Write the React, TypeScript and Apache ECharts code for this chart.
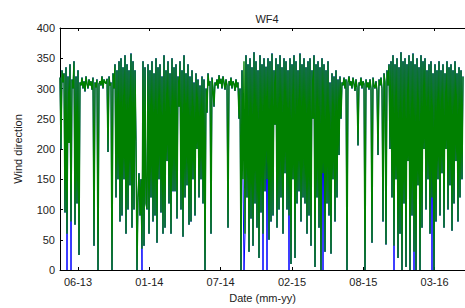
import React, { useEffect, useRef } from "react";
import * as echarts from "echarts";

// Tick labels (mm-yy) and their positions in days from 06-13
const tickLabels = ["06-13", "01-14", "07-14", "02-15", "08-15", "03-16"];
const tickDays = [0, 214, 428, 642, 856, 1070];
const startDay = -54;
const sampleDays = 3;
const xMin = -54;
const xMax = 1161;

// Green series (wind direction, degrees), one sample every 3 days
const greenValues = [
  318, 200, 330, 310, 325, 95, 335, 60, 320, 210,
  340, 80, 315, 300, 345, 75, 320, 110, 330, 25,
  310, 305, 318, 300, 312, 295, 320, 308, 300, 315,
  305, 312, 298, 318, 40, 310, 302, 315, 0, 308,
  312, 305, 320, 300, 315, 310, 308, 316, 195, 320,
  305, 310, 0, 325, 300, 340, 120, 330, 150, 345,
  80, 350, 90, 335, 150, 355, 60, 340, 100, 330,
  140, 358, 70, 345, 100, 330, 212, 0, 120, 160,
  90, 150, 35, 345, 40, 335, 110, 100, 340, 60,
  330, 120, 345, 80, 325, 90, 350, 45, 335, 150,
  340, 95, 320, 60, 355, 70, 330, 180, 345, 110,
  325, 60, 350, 130, 335, 130, 340, 85, 320, 270,
  345, 100, 330, 55, 355, 120, 325, 140, 340, 75,
  320, 80, 330, 150, 310, 90, 325, 200, 315, 120,
  305, 150, 320, 110, 315, 0, 300, 260, 325, 305,
  312, 60, 318, 300, 270, 310, 305, 315, 300, 322,
  308, 316, 300, 320, 310, 298, 315, 305, 70, 312,
  305, 318, 300, 312, 308, 296, 315, 302, 310, 250,
  300, 0, 330, 150, 345, 60, 355, 120, 340, 30,
  350, 85, 335, 40, 360, 110, 345, 70, 330, 20,
  355, 95, 340, 60, 350, 130, 336, 150, 350, 50,
  345, 80, 358, 90, 330, 240, 350, 70, 340, 100,
  355, 120, 335, 60, 350, 160, 345, 100, 330, 90,
  350, 10, 340, 150, 355, 20, 345, 110, 330, 130,
  358, 80, 340, 120, 350, 110, 335, 60, 345, 90,
  350, 40, 330, 250, 355, 5, 340, 120, 345, 70,
  335, 0, 350, 160, 340, 30, 330, 110, 345, 90,
  310, 27, 325, 150, 320, 80, 330, 120, 315, 190,
  320, 250, 310, 305, 318, 300, 315, 0, 310, 320,
  305, 312, 300, 318, 308, 296, 315, 302, 206, 310,
  305, 318, 300, 312, 308, 0, 315, 302, 310, 298,
  315, 300, 45, 318, 305, 300, 312, 296, 190, 315,
  305, 318, 300, 80, 325, 310, 42, 330, 305, 340,
  200, 345, 120, 355, 40, 340, 150, 350, 20, 335,
  60, 360, 0, 345, 110, 350, 5, 340, 180, 355,
  0, 345, 90, 358, 30, 340, 0, 350, 140, 335,
  0, 355, 70, 345, 200, 350, 100, 330, 150, 340,
  60, 345, 120, 325, 0, 340, 80, 330, 150, 345,
  90, 330, 160, 340, 70, 325, 200, 345, 100, 335,
  140, 340, 65, 330, 110, 345, 180, 325, 80, 335,
  120, 330, 150, 320,
];

// Blue series differs from green only at these samples: [sample index, value]
const blueOverrides: [number, number][] = [
  [7, 0], [11, 0], [82, 0], [184, 0], [203, 0], [207, 0], [229, 0],
  [263, 0], [334, 0], [354, 0], [372, 0],
];

function buildSeries(values: number[]) {
  return values.map((v, i) => [startDay + i * sampleDays, v]);
}

const blueValues = greenValues.slice();
blueOverrides.forEach(([i, v]) => {
  blueValues[i] = v;
});

const FONT = "'Liberation Sans', Arial, Helvetica, sans-serif";

export default function App() {
  const ref = useRef<HTMLDivElement>(null);
  useEffect(() => {
    if (!ref.current) return;
    const chart = echarts.init(ref.current, undefined, { renderer: "svg" });
    const labelOf = (v: number) => {
      const k = tickDays.indexOf(v);
      return k >= 0 ? tickLabels[k] : "";
    };
    chart.setOption({
      animation: false,
      backgroundColor: "#ffffff",
      textStyle: { fontFamily: FONT },
      title: {
        text: "WF4",
        left: 262,
        top: 8,
        textAlign: "center",
        textStyle: { fontSize: 11, fontWeight: "normal", color: "#222", fontFamily: FONT },
      },
      grid: { left: 60, top: 28, right: 0, bottom: 35 },
      xAxis: [
        {
          type: "value",
          min: xMin,
          max: xMax,
          name: "Date (mm-yy)",
          nameLocation: "middle",
          nameGap: 22,
          nameTextStyle: { fontSize: 11, color: "#222", fontFamily: FONT },
          axisLine: { show: true, onZero: false, lineStyle: { color: "#000", width: 1 } },
          axisTick: { show: true, inside: true, length: 3, customValues: tickDays, lineStyle: { color: "#000" } },
          axisLabel: {
            show: true,
            customValues: tickDays,
            formatter: (v: number) => labelOf(v),
            fontSize: 11,
            color: "#222",
            margin: 6,
            fontFamily: FONT,
          },
          splitLine: { show: false },
        },
        {
          type: "value",
          position: "top",
          min: xMin,
          max: xMax,
          axisLine: { show: true, onZero: false, lineStyle: { color: "#000", width: 1 } },
          axisTick: { show: true, inside: true, length: 3, customValues: tickDays, lineStyle: { color: "#000" } },
          axisLabel: { show: false },
          splitLine: { show: false },
        },
      ],
      yAxis: {
        type: "value",
        min: 0,
        max: 400,
        interval: 50,
        name: "Wind direction",
        nameLocation: "middle",
        nameGap: 37,
        nameRotate: 90,
        nameTextStyle: { fontSize: 11, color: "#222", fontFamily: FONT },
        axisLine: { show: true, onZero: false, lineStyle: { color: "#000", width: 1 } },
        axisTick: { show: true, inside: true, length: 3, lineStyle: { color: "#000" } },
        axisLabel: { fontSize: 11, color: "#222", margin: 5, fontFamily: FONT },
        splitLine: { show: false },
      },
      series: [
        {
          type: "line",
          data: buildSeries(blueValues),
          showSymbol: false,
          symbol: "none",
          lineStyle: { color: "#0000ff", width: 1 },
          itemStyle: { color: "#0000ff" },
        },
        {
          type: "line",
          data: buildSeries(greenValues),
          showSymbol: false,
          symbol: "none",
          lineStyle: { color: "#008000", width: 1.4 },
          itemStyle: { color: "#008000" },
        },
      ],
    });
    return () => chart.dispose();
  }, []);
  return (
    <div
      ref={ref}
      style={{ position: "fixed", left: 0, top: 0, width: 465, height: 308 }}
    />
  );
}
